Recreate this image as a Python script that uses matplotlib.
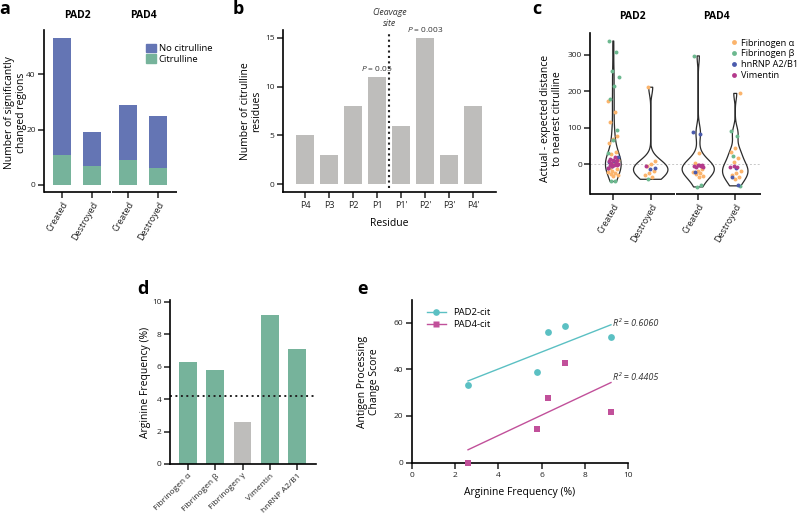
import numpy as np
import matplotlib
matplotlib.use("Agg")
import matplotlib.pyplot as plt
from matplotlib.patches import Patch
from matplotlib.lines import Line2D

plt.rcParams["font.family"] = ["Open Sans", "DejaVu Sans"]
plt.rcParams["mathtext.fontset"] = "custom"
plt.rcParams["mathtext.it"] = "Open Sans:italic"
plt.rcParams["mathtext.rm"] = "Open Sans"

# ---- panel a: significantly changed regions ----
a_groups = ["Created", "Destroyed", "Created", "Destroyed"]
a_citrulline = [11, 7, 9, 6]
a_no_citrulline = [42, 12, 20, 19]

# ---- panel b: citrulline residues around cleavage site ----
b_residues = ["P4", "P3", "P2", "P1", "P1'", "P2'", "P3'", "P4'"]
b_counts = [5, 3, 8, 11, 6, 15, 3, 8]

# ---- panel c: actual - expected distance, per protein, per group ----
c_groups = ["Created", "Destroyed", "Created", "Destroyed"]
c_fib_a = [
    [173, 144, 116, 77, 68, 57, 34, 28, 10, 5, -10, -15, -20, -22, -25, -28, -30, -33],
    [211, 7, 0, -5, -20, -25, -30, -35],
    [29, 4, -15, -18, -22, -25, -28, -32, -35],
    [194, 43, 33, 17, 5, -20, -25, -30, -35, -40],
]
c_fib_b = [
    [338, 308, 256, 240, 214, 178, 93, 66, 30, -46, -48],
    [-42],
    [297, -58, -63],
    [91, 77, 22, -60],
]
c_hnrnp = [
    [20, 8, 5, 0, -5, -12],
    [-10, -15],
    [89, 82, -22],
    [-12, -36, -58],
]
c_vim = [
    [18, 14, 12, 10, 8, 5, 2, 0, -2, -3, -4, -6, -10],
    [-5],
    [-2, -3, -5, -6, -8, -9, -4],
    [-5, -7, -9],
]

# ---- panel d: arginine frequency ----
d_proteins = ["Fibrinogen α", "Fibrinogen β", "Fibrinogen γ", "Vimentin", "hnRNP A2/B1"]
d_freq = [6.3, 5.8, 2.6, 9.2, 7.1]
d_baseline = 4.2

# ---- panel e: antigen processing change score vs arginine frequency ----
e_freq = [2.6, 5.8, 6.3, 7.1, 9.2]
e_pad2 = [33.4, 38.9, 56.1, 58.6, 53.7]
e_pad4 = [0, 14.3, 27.6, 42.6, 21.6]
e_r2 = ["R² = 0.6060", "R² = 0.4405"]

BLUE = "#6475B4"
GREEN = "#76B39B"
GREY = "#BEBDBB"
ORANGE = "#FBB46C"
C_GREEN = "#6CB88F"
C_BLUE = "#4B5BAD"
PURPLE = "#B43A8C"
TEAL = "#5BC0C3"
MAGENTA = "#C1509A"

TICK_FS = 6
LABEL_FS = 7.5

W, H = 797, 517
fig = plt.figure(figsize=(W / 100, H / 100), dpi=100)


def px_axes(x0, y0, x1, y1):
    return fig.add_axes([x0 / W, 1 - y1 / H, (x1 - x0) / W, (y1 - y0) / H])


def style(ax):
    for s in ("top", "right"):
        ax.spines[s].set_visible(False)
    for s in ("left", "bottom"):
        ax.spines[s].set_linewidth(1.2)
    ax.tick_params(direction="out", length=4, width=1.1, labelsize=TICK_FS, pad=2,
                   colors="#222222")


def broken_xaxis(ax, segments):
    ax.spines["bottom"].set_visible(False)
    for x0, x1 in segments:
        ax.plot([x0, x1], [0, 0], transform=ax.get_xaxis_transform(),
                color="black", lw=1.2, clip_on=False, solid_capstyle="butt")


# ================= a =================
ax = px_axes(44, 30, 177, 192)
style(ax)
pos_a = [0, 1, 2.2, 3.2]
ax.bar(pos_a, a_citrulline, width=0.6, color=GREEN, label="Citrulline")
ax.bar(pos_a, a_no_citrulline, width=0.6, bottom=a_citrulline, color=BLUE,
       label="No citrulline")
ax.set_xlim(-0.6, 3.83)
ax.set_ylim(-2.53, 56)
ax.set_yticks([0, 20, 40])
ax.set_xticks(pos_a)
ax.set_xticklabels(a_groups, rotation=60, ha="right", rotation_mode="anchor", fontsize=6.5)
broken_xaxis(ax, [(-0.6, 1.63), (1.68, 3.83)])
ax.set_ylabel("Number of significantly\nchanged regions", fontsize=LABEL_FS, linespacing=1.1)
ax.yaxis.set_label_coords(-0.13, 0.49)
handles = [Patch(color=BLUE), Patch(color=GREEN)]
ax.legend(handles, ["No citrulline", "Citrulline"], loc="upper left",
          bbox_to_anchor=(0.77, 0.915), frameon=False, fontsize=6.8,
          handlelength=1.0, handleheight=1.0, handletextpad=0.3,
          labelspacing=0.1, borderpad=0, borderaxespad=0)
ax.text(0.5, 1.09, "PAD2", transform=ax.get_xaxis_transform(), ha="center",
        va="center", fontsize=7.5, fontweight="bold")
ax.text(2.7, 1.09, "PAD4", transform=ax.get_xaxis_transform(), ha="center",
        va="center", fontsize=7.5, fontweight="bold")

# ================= b =================
ax = px_axes(282.7, 30, 495.7, 192.3)
style(ax)
xb = np.arange(len(b_residues))
ax.bar(xb, b_counts, width=0.76, color=GREY)
ax.set_xlim(-0.93, 7.93)
ax.set_ylim(-0.82, 15.78)
ax.set_yticks([0, 5, 10, 15])
ax.set_xticks(xb)
ax.set_xticklabels(b_residues, fontsize=6.5)
ax.plot([3.5, 3.5], [-0.4, 15.5], ls=(0, (1, 1.6)), lw=1.5, color="#222222")
ax.set_xlabel("Residue", fontsize=LABEL_FS, labelpad=6)
ax.set_ylabel("Number of citrulline\nresidues", fontsize=LABEL_FS, linespacing=1.1)
ax.yaxis.set_label_coords(-0.095, 0.5)
ax.text(3, b_counts[3] + 0.4, "$P$ = 0.05", ha="center", va="bottom", fontsize=6,
        color="#333333")
ax.text(5, b_counts[5] + 0.4, "$P$ = 0.003", ha="center", va="bottom", fontsize=6,
        color="#333333")
ax.text(3.5, 17.0, "Cleavage\nsite", ha="center", va="center", fontsize=6.3,
        style="italic", linespacing=1.4, color="#333333")

# ================= c =================
ax = px_axes(590.3, 33, 760.7, 194)
style(ax)
pos_c = [0, 1, 2.27, 3.26]
widths_c = [0.42, 0.92, 0.86, 0.68]
c_all = [c_fib_a[i] + c_fib_b[i] + c_hnrnp[i] + c_vim[i] for i in range(4)]
parts = ax.violinplot(c_all, positions=pos_c, widths=widths_c, showextrema=False,
                      bw_method=0.3)
for body in parts["bodies"]:
    body.set_alpha(1)
    body.set_facecolor("none")
    body.set_edgecolor("#2b2b2b")
    body.set_linewidth(0.9)
ax.axhline(0, color="#C8C8C8", lw=0.7, ls=(0, (2, 2)), zorder=0)
series = [(c_fib_a, ORANGE, "Fibrinogen α"), (c_fib_b, C_GREEN, "Fibrinogen β"),
          (c_hnrnp, C_BLUE, "hnRNP A2/B1"), (c_vim, PURPLE, "Vimentin")]
for gi, p in enumerate(pos_c):
    k = 0
    for vals, col, _ in series:
        for v in vals[gi]:
            off = ((k * 0.618 + gi * 0.3) % 1 - 0.5) * 0.3
            ax.scatter(p + off, v, s=8, color=col, lw=0, zorder=3)
            k += 1
ax.set_xlim(-0.615, 3.94)
ax.set_ylim(-82.4, 360)
ax.set_yticks([0, 100, 200, 300])
ax.set_xticks(pos_c)
ax.set_xticklabels(c_groups, rotation=60, ha="right", rotation_mode="anchor", fontsize=6.5)
broken_xaxis(ax, [(-0.615, 1.64), (1.68, 3.94)])
ax.set_ylabel("Actual - expected distance\nto nearest citrulline", fontsize=LABEL_FS,
              linespacing=1.1)
ax.yaxis.set_label_coords(-0.16, 0.47)
handles = [Line2D([], [], ls="", marker="o", ms=3.5, mec="none", color=c)
           for _, c, _ in series]
ax.legend(handles, [n for _, _, n in series], loc="upper left",
          bbox_to_anchor=(0.82, 0.965), frameon=False, fontsize=6.6,
          handlelength=0.8, handletextpad=0.4, labelspacing=0.2,
          borderpad=0, borderaxespad=0)
ax.text(0.5, 1.1, "PAD2", transform=ax.get_xaxis_transform(), ha="center",
        va="center", fontsize=7.5, fontweight="bold")
ax.text(2.75, 1.1, "PAD4", transform=ax.get_xaxis_transform(), ha="center",
        va="center", fontsize=7.5, fontweight="bold")

# ================= d =================
ax = px_axes(170, 300, 315.7, 464)
style(ax)
xd = np.arange(len(d_proteins))
d_colors = [GREEN, GREEN, GREY, GREEN, GREEN]
ax.bar(xd, d_freq, width=0.65, color=d_colors)
ax.axhline(d_baseline, ls=(0, (1, 1.8)), lw=1.4, color="#222222")
ax.set_xlim(-0.66, 4.68)
ax.set_ylim(0, 10.12)
ax.set_yticks([0, 2, 4, 6, 8, 10])
ax.set_xticks(xd)
ax.set_xticklabels(d_proteins, rotation=45, ha="right", rotation_mode="anchor",
                   fontsize=6)
ax.set_ylabel("Arginine Frequency (%)", fontsize=LABEL_FS)
ax.yaxis.set_label_coords(-0.13, 0.5)

# ================= e =================
ax = px_axes(411.7, 300, 628.3, 463.3)
style(ax)
for ys, col, mk, name in [(e_pad2, TEAL, "o", "PAD2-cit"), (e_pad4, MAGENTA, "s", "PAD4-cit")]:
    ax.scatter(e_freq, ys, s=24, marker=mk, color=col, lw=0, zorder=3, clip_on=False)
    slope, icpt = np.polyfit(e_freq, ys, 1)
    xs = np.array([min(e_freq), max(e_freq)])
    ax.plot(xs, slope * xs + icpt, color=col, lw=1.0)
ax.text(9.3, 59.5, e_r2[0], ha="left", va="center", fontsize=6.5, style="italic",
        color="#333333")
ax.text(9.3, 36.5, e_r2[1], ha="left", va="center", fontsize=6.5, style="italic",
        color="#333333")
ax.set_xlim(0, 10)
ax.set_ylim(-0.3, 69.7)
ax.set_xticks([0, 2, 4, 6, 8, 10])
ax.set_yticks([0, 20, 40, 60])
ax.set_xlabel("Arginine Frequency (%)", fontsize=LABEL_FS, labelpad=6)
ax.set_ylabel("Antigen Processing\nChange Score", fontsize=LABEL_FS, linespacing=1.1)
ax.yaxis.set_label_coords(-0.145, 0.5)
handles = [Line2D([], [], color=TEAL, marker="o", ms=4.8, mec="none", lw=1.0),
           Line2D([], [], color=MAGENTA, marker="s", ms=4.8, mec="none", lw=1.0)]
ax.legend(handles, ["PAD2-cit", "PAD4-cit"], loc="upper left",
          bbox_to_anchor=(0.07, 0.95), frameon=False, fontsize=6.8,
          handlelength=2.0, handletextpad=0.8, labelspacing=0.3,
          borderpad=0, borderaxespad=0)

# ---- panel letters ----
for letter, x, y in [("a", 5, 9), ("b", 238, 9), ("c", 537, 9), ("d", 143, 289), ("e", 362, 289)]:
    fig.text(x / W, 1 - y / H, letter, fontsize=13, fontweight="bold", ha="center",
             va="center")

fig.savefig("out.png", dpi=100)
